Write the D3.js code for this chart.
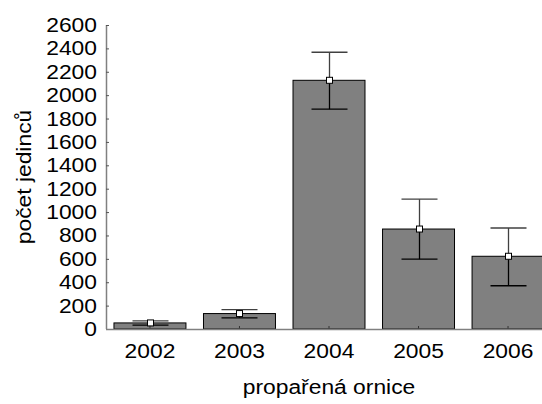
<!DOCTYPE html>
<html>
<head>
<meta charset="utf-8">
<script src="https://cdn.jsdelivr.net/npm/d3@7"></script>
<style>
html,body{margin:0;padding:0;background:#fff;}
svg text{font-family:"Liberation Sans",Arial,sans-serif;fill:#000;}
</style>
</head>
<body>
<svg id="chart" width="542" height="404"></svg>
<script>
const categories = ["2002","2003","2004","2005","2006"];
const means = [52, 132, 2127, 855, 622];
const upper = [70, 165, 2367, 1110, 864];
const lower = [33, 96, 1880, 597, 370];
const yTicks = [0,200,400,600,800,1000,1200,1400,1600,1800,2000,2200,2400,2600];
const xTitle = "propařená ornice";
const yTitle = "počet jedinců";

const svg = d3.select("#chart");
const x0 = 106, yBottom = 329, yTop = 25;
const FS = 19.5, SX = 1.17;
const x = d3.scaleBand().domain(categories).range([x0, 552]).paddingInner(0.196).paddingOuter(0.089);
const y = d3.scaleLinear().domain([0, 2600]).range([yBottom, yTop]);

// bars
svg.selectAll("rect.bar").data(categories).join("rect")
  .attr("class","bar")
  .attr("x", d => x(d)).attr("width", x.bandwidth())
  .attr("y", (d,i) => y(means[i])).attr("height", (d,i) => y(0) - y(means[i]))
  .attr("fill", "#808080").attr("stroke", "#000").attr("stroke-width", 1);

// small tick at bottom centre of each bar
svg.selectAll("line.xt").data(categories).join("line")
  .attr("x1", d => x(d) + x.bandwidth()/2).attr("x2", d => x(d) + x.bandwidth()/2)
  .attr("y1", yBottom).attr("y2", yBottom - 3)
  .attr("stroke", "#333").attr("stroke-width", 1);

// error bars
const capHalf = 18;
categories.forEach((c, i) => {
  const cx = Math.round(x(c) + x.bandwidth()/2) + 0.5;
  const g = svg.append("g");
  g.append("line").attr("x1", cx).attr("x2", cx).attr("y1", y(means[i])).attr("y2", y(upper[i]))
    .attr("stroke", "#404040").attr("stroke-width", 1.3);
  g.append("line").attr("x1", cx - capHalf).attr("x2", cx + capHalf).attr("y1", y(upper[i])).attr("y2", y(upper[i]))
    .attr("stroke", "#404040").attr("stroke-width", 1.3);
  g.append("line").attr("x1", cx).attr("x2", cx).attr("y1", y(means[i])).attr("y2", y(lower[i]))
    .attr("stroke", "#000").attr("stroke-width", 1.3);
  g.append("line").attr("x1", cx - capHalf).attr("x2", cx + capHalf).attr("y1", y(lower[i])).attr("y2", y(lower[i]))
    .attr("stroke", "#000").attr("stroke-width", 1.3);
  g.append("rect").attr("x", cx - 3).attr("y", y(means[i]) - 3).attr("width", 6).attr("height", 6)
    .attr("fill", "#fff").attr("stroke", "#000").attr("stroke-width", 1);
});

// y axis
const yAxis = d3.axisRight(y).tickValues(yTicks).tickSize(3).tickFormat("");
const ya = svg.append("g").attr("transform", `translate(${x0},0)`).call(yAxis);
ya.select(".domain").attr("stroke", "#808080").attr("stroke-width", 1.5).attr("d", `M0.5,${yTop}V${yBottom}`);
ya.selectAll(".tick line").attr("stroke", "#555");

function stretchedText(tx, ty, txt, anchor, extra) {
  svg.append("g").attr("transform", `translate(${tx},${ty}) ${extra || ""} scale(${SX},1)`)
    .append("text").attr("text-anchor", anchor).attr("font-size", FS).text(txt);
}
yTicks.forEach(v => stretchedText(97, y(v) + 7, v, "end"));

// x axis line
svg.append("line").attr("x1", x0).attr("x2", 542).attr("y1", yBottom + 0.5).attr("y2", yBottom + 0.5)
  .attr("stroke", "#808080").attr("stroke-width", 1.5);
categories.forEach(c => stretchedText(x(c) + x.bandwidth()/2, 358, c, "middle"));

// titles
stretchedText(329, 394, xTitle, "middle");
stretchedText(31, 177, yTitle, "middle", "rotate(-90)");
</script>
</body>
</html>
